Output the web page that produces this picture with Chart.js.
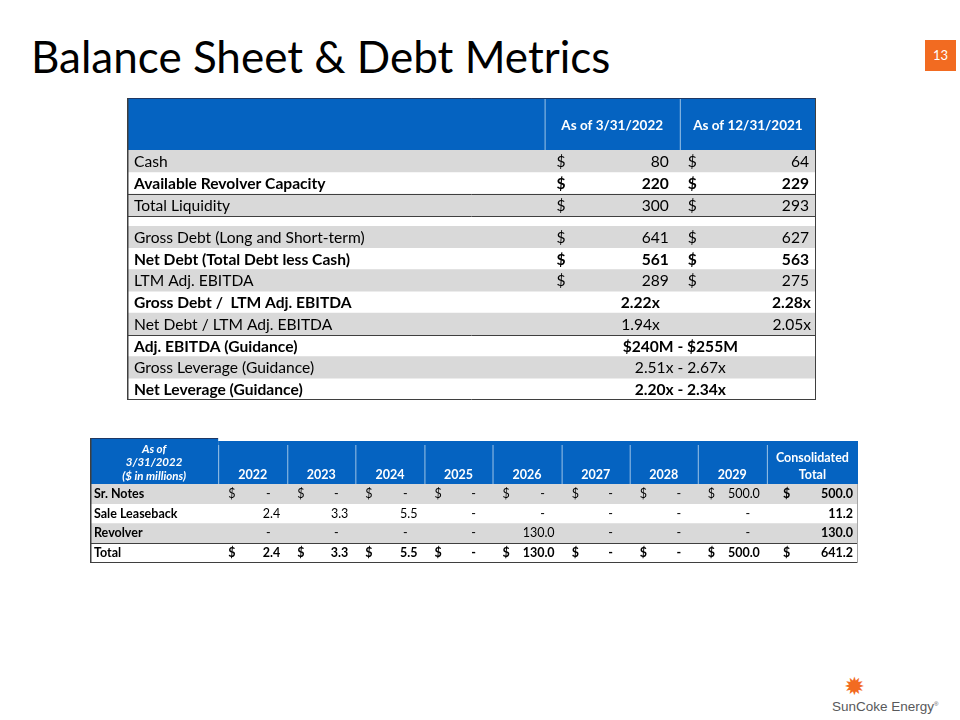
<!DOCTYPE html>
<html>
<head>
<meta charset="utf-8">
<script src="https://cdn.jsdelivr.net/npm/chart.js@4.4.1/dist/chart.umd.min.js"></script>
<style>
  body { margin: 0; width: 960px; height: 720px; background: #fff; position: relative; overflow: hidden; font-family: Lato, sans-serif; }
  .title { position: absolute; left: 31px; top: 30px; font-size: 44px; color: #000; white-space: nowrap; }
  .page { position: absolute; left: 925px; top: 40px; width: 31px; height: 31px; background: #F26B21; color: #fff; font-size: 13px; text-align: center; line-height: 31px; }
  canvas { position: absolute; }
  .logo { position: absolute; left: 832px; top: 674px; width: 110px; color: #58595B; font-family: "Liberation Sans Narrow", "Liberation Sans", sans-serif; font-size: 13.5px; }
  .logo .sun { position: absolute; left: 12px; top: 0; color: #F26B21; font-size: 25px; line-height: 25px; font-family: "DejaVu Sans", sans-serif; }
  .logo .name { position: absolute; left: 0; top: 25px; white-space: nowrap; }
  .logo sup { font-size: 6px; }
</style>
</head>
<body>
<div class="title">Balance Sheet &amp; Debt Metrics</div>
<div class="page">13</div>
<canvas id="liquidity" width="689" height="128" style="left:127px;top:98px"></canvas>
<canvas id="debt" width="689" height="174" style="left:127px;top:226px"></canvas>
<canvas id="maturities" width="768" height="125" style="left:90px;top:438px"></canvas>
<div class="logo"><span class="sun">✹</span><span class="name">SunCoke Energy<sup>®</sup></span></div>

<script>
// ---- table 1: liquidity and leverage ----
const periodLabels = ["As of 3/31/2022", "As of 12/31/2021"];

const liquidityRows = ["Cash", "Available Revolver Capacity", "Total Liquidity"];
const liquidity2022 = [80, 220, 300];
const liquidity2021 = [64, 229, 293];

const debtRows = [
  "Gross Debt (Long and Short-term)",
  "Net Debt (Total Debt less Cash)",
  "LTM Adj. EBITDA",
  "Gross Debt /  LTM Adj. EBITDA",
  "Net Debt / LTM Adj. EBITDA",
  "Adj. EBITDA (Guidance)",
  "Gross Leverage (Guidance)",
  "Net Leverage (Guidance)"
];
const debtAmt2022 = [641, 561, 289];
const debtAmt2021 = [627, 563, 275];
const ratio2022 = [2.22, 1.94];
const ratio2021 = [2.28, 2.05];
const guidanceRanges = ["$240M - $255M", "2.51x - 2.67x", "2.20x - 2.34x"];

// ---- table 2: debt maturities ($ in millions) ----
const maturityRows = ["Sr. Notes", "Sale Leaseback", "Revolver", "Total"];
const years = ["2022", "2023", "2024", "2025", "2026", "2027", "2028", "2029"];
const srNotes = [0, 0, 0, 0, 0, 0, 0, 500.0];
const saleLeaseback = [2.4, 3.3, 5.5, 0, 0, 0, 0, 0];
const revolver = [0, 0, 0, 0, 130.0, 0, 0, 0];
const totalByYear = [2.4, 3.3, 5.5, 0, 130.0, 0, 0, 500.0];
const consolidatedTotal = [500.0, 11.2, 130.0, 641.2];

const BLUE = "#0563C1";
const GREY = "#D9D9D9";
const LINE = "#3F3F3F";
const SEP = "#9DC3E6";
const FONT = "Lato, sans-serif";
const BODY = "15.6px " + FONT;

function text(ctx, str, px, py, align, font, color) {
  ctx.font = font;
  ctx.textAlign = align;
  ctx.textBaseline = "middle";
  ctx.fillStyle = color || "#000";
  ctx.fillText(str, px, py);
}

function hline(ctx, x1, x2, py, color, w) {
  ctx.strokeStyle = color; ctx.lineWidth = w || 1;
  ctx.beginPath(); ctx.moveTo(x1, py); ctx.lineTo(x2, py); ctx.stroke();
}

function vline(ctx, px, y1, y2, color, w) {
  ctx.strokeStyle = color; ctx.lineWidth = w || 1;
  ctx.beginPath(); ctx.moveTo(px, y1); ctx.lineTo(px, y2); ctx.stroke();
}

// striped rows: grey floating bars across the table width
function stripeChart(id, rows, shaded, width, padding, cellPlugin) {
  return new Chart(document.getElementById(id), {
    type: "bar",
    data: {
      labels: rows,
      datasets: [{
        data: rows.map((r, i) => shaded[i] ? [0, width] : null),
        backgroundColor: GREY,
        borderWidth: 0,
        barPercentage: 1,
        categoryPercentage: 1
      }]
    },
    options: {
      indexAxis: "y",
      responsive: false,
      animation: false,
      events: [],
      layout: { padding: padding },
      scales: {
        x: { display: false, min: 0, max: width },
        y: { display: false }
      },
      plugins: { legend: { display: false }, tooltip: { enabled: false } }
    },
    plugins: [cellPlugin]
  });
}

const W1 = 688;
const cols1 = [0, 417, 552, 688];

function moneyCell(ctx, x, py, c, val, font, dollarPad, rightPad) {
  text(ctx, "$", x.getPixelForValue(cols1[c] + dollarPad), py, "left", font);
  text(ctx, String(val), x.getPixelForValue(cols1[c + 1] - rightPad), py, "right", font);
}

// liquidity block with header
stripeChart("liquidity", liquidityRows, [true, false, true], W1, { top: 52, bottom: 10 }, {
  id: "liquidityCells",
  beforeDatasetsDraw(chart) {
    const { ctx, chartArea, scales: { x } } = chart;
    ctx.save();
    ctx.fillStyle = BLUE;
    ctx.fillRect(x.getPixelForValue(0), 0, x.getPixelForValue(W1) - x.getPixelForValue(0), chartArea.top);
    vline(ctx, x.getPixelForValue(cols1[1]) + 0.5, 1, chartArea.top, SEP);
    vline(ctx, x.getPixelForValue(cols1[2]) + 0.5, 1, chartArea.top, SEP);
    ctx.restore();
  },
  afterDatasetsDraw(chart) {
    const { ctx, chartArea, scales: { x, y } } = chart;
    ctx.save();
    periodLabels.forEach((p, c) => {
      text(ctx, p, x.getPixelForValue((cols1[c + 1] + cols1[c + 2]) / 2), 28, "center", "bold 13.5px " + FONT, "#fff");
    });
    liquidityRows.forEach((r, i) => {
      const py = y.getPixelForValue(i) + 1;
      const font = (i === 1 ? "bold " : "") + BODY;
      text(ctx, r, x.getPixelForValue(7), py, "left", font);
      moneyCell(ctx, x, py, 1, liquidity2022[i], font, 12, 11);
      moneyCell(ctx, x, py, 2, liquidity2021[i], font, 8, 7);
    });
    const b1 = (y.getPixelForValue(1) + y.getPixelForValue(2)) / 2;
    hline(ctx, 0, chart.width, Math.round(b1) + 0.5, LINE);
    hline(ctx, 0, chart.width, Math.round(chartArea.bottom) + 0.5, LINE);
    hline(ctx, 0, chart.width, 0.5, "#1F3864");
    vline(ctx, 0.75, 0, chart.height, LINE, 1.5);
    vline(ctx, chart.width - 0.5, 0, chart.height, LINE);
    ctx.restore();
  }
});

// debt and leverage block
stripeChart("debt", debtRows, [true, false, true, false, true, false, true, false], W1, { top: 0, bottom: 0 }, {
  id: "debtCells",
  afterDatasetsDraw(chart) {
    const { ctx, scales: { x, y } } = chart;
    ctx.save();
    debtRows.forEach((r, i) => {
      const py = y.getPixelForValue(i) + 1;
      const font = (i % 2 === 1 ? "bold " : "") + BODY;
      text(ctx, r, x.getPixelForValue(7), py, "left", font);
      if (i < 3) {
        moneyCell(ctx, x, py, 1, debtAmt2022[i], font, 12, 11);
        moneyCell(ctx, x, py, 2, debtAmt2021[i], font, 8, 7);
      } else if (i < 5) {
        text(ctx, ratio2022[i - 3].toFixed(2) + "x", x.getPixelForValue(cols1[2] - 20), py, "right", font);
        text(ctx, ratio2021[i - 3].toFixed(2) + "x", x.getPixelForValue(cols1[3] - 5), py, "right", font);
      } else {
        text(ctx, guidanceRanges[i - 5], x.getPixelForValue((cols1[1] + cols1[3]) / 2), py, "center", font);
      }
    });
    const b4 = (y.getPixelForValue(4) + y.getPixelForValue(5)) / 2;
    hline(ctx, 0, chart.width, Math.round(b4) + 0.5, LINE);
    hline(ctx, 0, chart.width, chart.height - 0.5, LINE);
    vline(ctx, 0.75, 0, chart.height, LINE, 1.5);
    vline(ctx, chart.width - 0.5, 0, chart.height, LINE);
    ctx.restore();
  }
});

// maturities table
const W2 = 767;
const cols2 = [0, 128, 197, 265, 334, 402, 471, 539, 607, 676, 767];

stripeChart("maturities", maturityRows, [true, false, true, false], W2, { top: 46, bottom: 0 }, {
  id: "maturityCells",
  beforeDatasetsDraw(chart) {
    const { ctx, chartArea, scales: { x } } = chart;
    ctx.save();
    ctx.fillStyle = BLUE;
    ctx.fillRect(x.getPixelForValue(0), 1, x.getPixelForValue(cols2[1]) - x.getPixelForValue(0), chartArea.top - 1);
    ctx.fillRect(x.getPixelForValue(cols2[1]), 3, x.getPixelForValue(W2) - x.getPixelForValue(cols2[1]), chartArea.top - 3);
    for (let c = 1; c < cols2.length - 1; c++) {
      vline(ctx, x.getPixelForValue(cols2[c]) + 0.5, 7, chartArea.top, SEP);
    }
    hline(ctx, 0, x.getPixelForValue(cols2[1]), 0.5, "#1F3864");
    ctx.restore();
  },
  afterDatasetsDraw(chart) {
    const { ctx, chartArea, scales: { x, y } } = chart;
    ctx.save();
    const hf = "italic bold 11.5px " + FONT;
    const lc = x.getPixelForValue(cols2[1] / 2);
    text(ctx, "As of", lc, 11, "center", hf, "#fff");
    text(ctx, "3/31/2022", lc, 24, "center", hf, "#fff");
    text(ctx, "($ in millions)", lc, 38, "center", hf, "#fff");
    years.forEach((yr, c) => {
      text(ctx, yr, x.getPixelForValue((cols2[c + 1] + cols2[c + 2]) / 2), 37, "center", "bold 12.5px " + FONT, "#fff");
    });
    const tc = x.getPixelForValue((cols2[9] + cols2[10]) / 2);
    text(ctx, "Consolidated", tc, 20, "center", "bold 12.5px " + FONT, "#fff");
    text(ctx, "Total", tc, 37, "center", "bold 12.5px " + FONT, "#fff");

    const series = [srNotes, saleLeaseback, revolver, totalByYear];
    maturityRows.forEach((r, i) => {
      const py = y.getPixelForValue(i);
      const bold = i === 3;
      const font = (bold ? "bold " : "") + "12.5px " + FONT;
      text(ctx, r, x.getPixelForValue(4), py, "left", "bold 12.5px " + FONT);
      const showDollar = i === 0 || i === 3;
      series[i].forEach((v, c) => {
        const left = cols2[c + 1], right = cols2[c + 2];
        if (showDollar) text(ctx, "$", x.getPixelForValue(left + 10), py, "left", font);
        if (v === 0) text(ctx, "-", x.getPixelForValue(right - 19), py, "center", font);
        else text(ctx, v.toFixed(1), x.getPixelForValue(right - 7), py, "right", font);
      });
      const bf = "bold 12.5px " + FONT;
      if (showDollar) text(ctx, "$", x.getPixelForValue(cols2[9] + 16), py, "left", bf);
      text(ctx, consolidatedTotal[i].toFixed(1), x.getPixelForValue(W2 - 5), py, "right", bf);
    });
    const b2 = (y.getPixelForValue(2) + y.getPixelForValue(3)) / 2;
    hline(ctx, 0, chart.width, Math.round(b2) + 0.5, LINE);
    hline(ctx, 0, chart.width, chart.height - 0.5, LINE);
    vline(ctx, 0.75, 0, chart.height, LINE, 1.5);
    vline(ctx, chart.width - 0.5, chartArea.top, chart.height, "#A6A6A6");
    ctx.restore();
  }
});
</script>
</body>
</html>
